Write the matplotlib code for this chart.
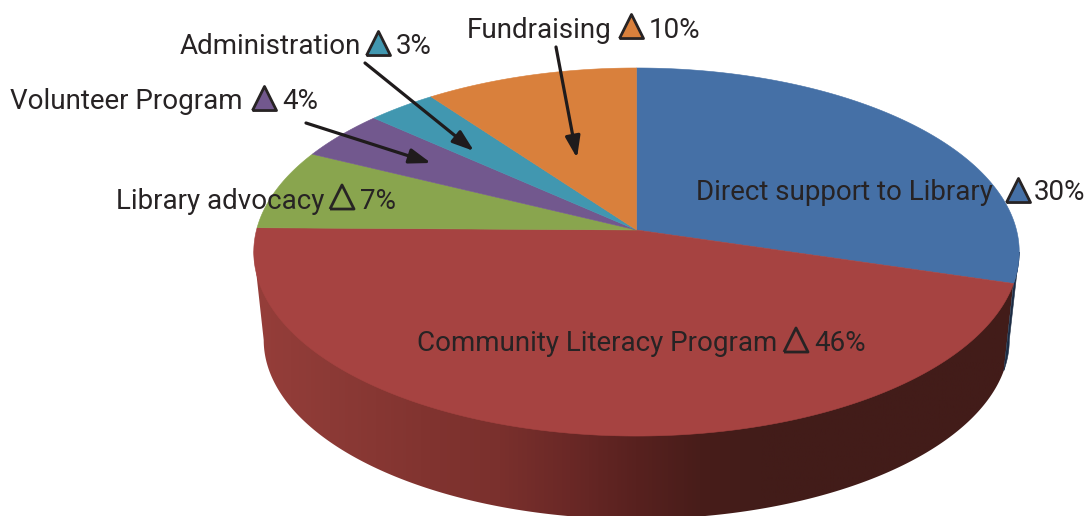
import numpy as np
import matplotlib
matplotlib.use("Agg")
import matplotlib.pyplot as plt
from matplotlib.patches import Polygon
from matplotlib.colors import LinearSegmentedColormap

categories = ["Direct support to Library", "Community Literacy Program", "Library advocacy",
              "Volunteer Program", "Administration", "Fundraising"]
shares = [29.6, 45.6, 7.05, 4.35, 3.3, 10.1]
percent_labels = ["30%", "46%", "7%", "4%", "3%", "10%"]
colors = ["#4570a6", "#a64341", "#89a54e", "#72588e", "#4197b0", "#d9803c"]
tri_fill = ["#4570a6", "none", "none", "#72588e", "#4197b0", "#d9803c"]

# text layout: name left x, baseline y, triangle centre x, triangle bottom y, percent left x
name_x = [696, 417, 116, 10, 180, 467]
base_y = [200, 351, 209, 109, 54, 38]
tri_x = [1018, 796, 342, 264, 378, 631]
tri_y = [201, 351, 208, 109, 54, 37]
pct_x = [1034, 814, 360, 282, 396, 649]
arrows = {3: ((306, 123), (431, 163)), 4: ((365, 63), (474, 151)), 5: ((556, 47), (577, 158))}

INK = "#272324"
CX, CY = 636.5, 230.0
K, A = 0.1196, 181.4
B = 380.0


def top_xy(theta):
    x, y = np.sin(theta), np.cos(theta)
    d = 1 + K * y
    return CX + B * x / d, CY - A * y / d


def low_xy(theta):
    X, Y = top_xy(theta)
    return CX + 0.974 * (X - CX), 340 + 0.973 * (Y - 252)


fig = plt.figure(figsize=(10.86, 5.16), dpi=100)
ax = fig.add_axes([0, 0, 1, 1])
ax.set_xlim(0, 1086)
ax.set_ylim(516, 0)
ax.axis("off")

edges = np.cumsum([0] + shares) / sum(shares) * 2 * np.pi
t_right = np.pi / 2 + np.arcsin(K)
t_left = 3 * np.pi / 2 - np.arcsin(K)

# rim: horizontal gradient clipped to the side wall
stops_x = np.array([250, 330, 420, 500, 570, 636, 700, 760, 1025])
stops_c = np.array([(150, 62, 58), (140, 58, 54), (130, 52, 48), (122, 48, 45), (106, 40, 38),
                    (88, 33, 31), (72, 29, 26), (66, 28, 25), (66, 28, 25)]) / 255
cmap = LinearSegmentedColormap.from_list(
    "rim", list(zip((stops_x - stops_x[0]) / (stops_x[-1] - stops_x[0]), stops_c)), N=512)
ts = np.linspace(edges[1], t_left, 500)
tx, ty = top_xy(ts)
lx, ly = low_xy(ts)
wall = Polygon(np.column_stack([np.r_[tx, lx[::-1]], np.r_[ty - 2, ly[::-1]]]), closed=True,
               facecolor="none", edgecolor="none", transform=ax.transData)
ax.add_patch(wall)
im = ax.imshow(np.linspace(0, 1, 512)[None, :], cmap=cmap, aspect="auto", zorder=1,
               extent=(stops_x[0], stops_x[-1], 525, 200))
im.set_clip_path(wall)
ax.set_xlim(0, 1086)
ax.set_ylim(516, 0)

# thin dark sliver of the blue slice's side
tb = np.linspace(t_right, edges[1], 60)
bx, by = top_xy(tb)
ax_, ay_ = low_xy(tb)
ax.add_patch(Polygon(np.column_stack([np.r_[bx, ax_[::-1]], np.r_[by, ay_[::-1]]]), closed=True,
                     facecolor="#1c2c44", edgecolor="#1c2c44", linewidth=0.4, zorder=1.5))

# top face
for i, c in enumerate(colors):
    t = np.linspace(edges[i], edges[i + 1], 200)
    X, Y = top_xy(t)
    pts = np.column_stack([np.r_[CX, X], np.r_[CY, Y]])
    ax.add_patch(Polygon(pts, closed=True, facecolor=c, edgecolor=c, linewidth=0.4, zorder=2))

# labels
fam = ["Roboto", "DejaVu Sans"]
FS = 20
TRI = [(-1, -1), (1, -1), (0, 1), (-1, -1)]
for i, name in enumerate(categories):
    ax.text(name_x[i], base_y[i], name, fontsize=FS, family=fam, color=INK, va="baseline", ha="left", zorder=5)
    ax.text(pct_x[i], base_y[i], percent_labels[i], fontsize=FS, family=fam, color=INK, va="baseline", ha="left", zorder=5)
    ax.scatter([tri_x[i]], [tri_y[i] - 11], marker=TRI, s=300,
               facecolors=tri_fill[i], edgecolors=INK, linewidths=2.0, zorder=5)

for i, (p0, p1) in arrows.items():
    ax.annotate("", xy=p1, xytext=p0, zorder=6,
                arrowprops=dict(arrowstyle="-|>,head_length=1.3,head_width=0.45", color="#1f1b1c",
                                lw=2.3, shrinkA=0, shrinkB=0))

fig.savefig("out.png", dpi=100)
